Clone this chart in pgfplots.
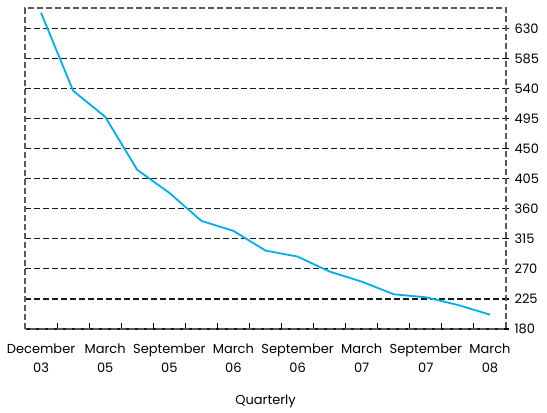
\documentclass[border=0pt]{standalone}
\usepackage{pgfplots}
\pgfplotsset{compat=1.18}
\usepackage{fontspec}
\setmainfont{Poppins}
\begin{document}
\fontsize{13}{16}\selectfont
\begin{tikzpicture}
\begin{axis}[
  at={(0,0)}, anchor=south west,
  scale only axis, width=481pt, height=321pt,
  xmin=-0.5, xmax=14.5, ymin=180, ymax=661,
  xtick={-0.5,0.5,...,14.5},
  xticklabels={},
  extra x ticks={0,2,...,14},
  extra x tick labels={{December\\03},{March\\05},{September\\05},{March\\06},{September\\06},{March\\07},{September\\07},{March\\08}},
  extra x tick style={tick style={draw=none}, tick label style={align=center, font=\fontsize{13}{19}\selectfont, yshift=-10pt}},
  xtick pos=bottom,
  ytick={180,225,...,630},
  ytick pos=right, yticklabel pos=right,
  major tick length=6pt,
  tick align=inside,
  tick style={solid, black, line width=1.1pt},
  y tick style={xshift=3pt},
  y tick label style={font=\fontsize{13}{16}\selectfont, xshift=4pt},
  /pgf/number format/assume math mode=true,
  ymajorgrids,
  major grid style={black!90, line width=1.1pt, dash pattern=on 6pt off 3pt},
  axis line style={black!65, line width=1.2pt, dash pattern=on 6pt off 3pt},
  xlabel={Quarterly},
  xlabel style={font=\fontsize{13}{16}\selectfont, yshift=-14pt},
]
\addplot[color={rgb,255:red,0;green,174;blue,239}, line width=1.8pt] coordinates {
(0,654) (1,537) (2,498) (3,418.5) (4,384) (5,342) (6,327) (7,297.5)
(8,288.5) (9,266) (10,251) (11,232) (12,227.5) (13,216) (14,201.5)
};
\end{axis}
\path (-25pt,-83pt) rectangle (522pt,329pt);
\end{tikzpicture}
\end{document}
